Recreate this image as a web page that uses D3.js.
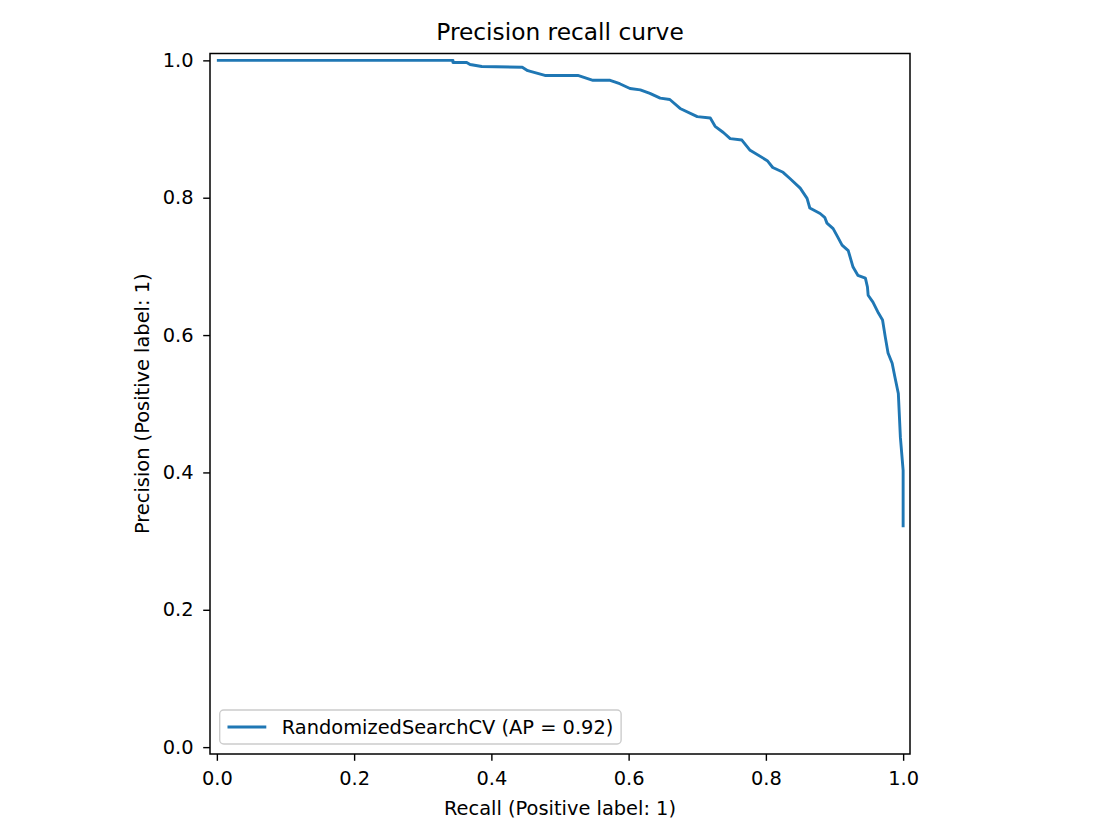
<!DOCTYPE html>
<html>
<head>
<meta charset="utf-8">
<script src="https://cdn.jsdelivr.net/npm/d3@7"></script>
<style>
  html, body { margin: 0; padding: 0; background: #fff; }
  text { font-family: "DejaVu Sans", sans-serif; fill: #000; }
</style>
</head>
<body>
<svg id="chart" width="1120" height="840"></svg>
<script>
// ---- data ----
const recall = [0.000, 0.344, 0.344, 0.364, 0.369, 0.386, 0.445, 0.453, 0.478, 0.526, 0.548, 0.573, 0.587, 0.602, 0.617, 0.631, 0.646, 0.660, 0.675, 0.700, 0.719, 0.726, 0.738, 0.748, 0.765, 0.777, 0.802, 0.810, 0.825, 0.835, 0.850, 0.860, 0.864, 0.879, 0.886, 0.889, 0.898, 0.904, 0.911, 0.920, 0.927, 0.934, 0.945, 0.948, 0.949, 0.956, 0.964, 0.970, 0.974, 0.978, 0.984, 0.988, 0.993, 0.996, 1.000, 1.000];
const precision = [1.000, 1.000, 0.997, 0.997, 0.994, 0.991, 0.990, 0.985, 0.978, 0.978, 0.971, 0.971, 0.966, 0.959, 0.957, 0.952, 0.945, 0.943, 0.930, 0.918, 0.916, 0.904, 0.895, 0.886, 0.884, 0.869, 0.854, 0.844, 0.837, 0.828, 0.814, 0.799, 0.785, 0.777, 0.771, 0.763, 0.755, 0.744, 0.731, 0.723, 0.699, 0.687, 0.683, 0.670, 0.658, 0.648, 0.632, 0.622, 0.597, 0.574, 0.559, 0.539, 0.515, 0.451, 0.403, 0.320];
const xTicks = [0.0, 0.2, 0.4, 0.6, 0.8, 1.0];
const yTicks = [0.0, 0.2, 0.4, 0.6, 0.8, 1.0];
const titleText = "Precision recall curve";
const xLabelText = "Recall (Positive label: 1)";
const yLabelText = "Precision (Positive label: 1)";
const legendText = "RandomizedSearchCV (AP = 0.92)";

// ---- layout ----
const L = 210, R = 910, T = 53.5, B = 754;
const color = "#1f77b4";
const fs = 19.4;

const svg = d3.select("#chart");
const x = d3.scaleLinear().domain([-0.01, 1.01]).range([L, R]);
const y = d3.scaleLinear().domain([-0.01, 1.01]).range([B, T]);

const pts = recall.map((r, i) => [r, precision[i]]);

// curve
svg.append("path")
  .datum(pts)
  .attr("fill", "none")
  .attr("stroke", color)
  .attr("stroke-width", 2.9)
  .attr("stroke-linejoin", "round")
  .attr("d", d3.line().x(d => x(d[0])).y(d => y(d[1])).curve(d3.curveLinear));

// axes
const xAxis = d3.axisBottom(x).tickValues(xTicks).tickFormat(d3.format(".1f")).tickSizeOuter(0).tickSize(6.8).tickPadding(6.8);
const yAxis = d3.axisLeft(y).tickValues(yTicks).tickFormat(d3.format(".1f")).tickSizeOuter(0).tickSize(6.8).tickPadding(6.8);

const gx = svg.append("g").attr("transform", `translate(0,${B})`).call(xAxis);
const gy = svg.append("g").attr("transform", `translate(${L},0)`).call(yAxis);
[gx, gy].forEach(g => {
  g.select(".domain").remove();
  g.selectAll(".tick line").attr("stroke", "#000").attr("stroke-width", 1.4);
  g.selectAll(".tick text").attr("font-size", fs).attr("font-family", "DejaVu Sans").attr("fill", "#000");
});
gx.selectAll(".tick text").attr("dy", null).attr("y", 31);
gy.selectAll(".tick text").attr("x", -16.5);

// frame
svg.append("rect")
  .attr("x", L).attr("y", T).attr("width", R - L).attr("height", B - T)
  .attr("fill", "none").attr("stroke", "#000").attr("stroke-width", 1.5);

// title & labels
svg.append("text").attr("x", (L + R) / 2).attr("y", 40).attr("text-anchor", "middle")
  .attr("font-size", 23.3).text(titleText);
svg.append("text").attr("x", (L + R) / 2).attr("y", 815).attr("text-anchor", "middle")
  .attr("font-size", fs).text(xLabelText);
svg.append("text").attr("transform", `translate(149,${(T + B) / 2}) rotate(-90)`).attr("text-anchor", "middle")
  .attr("font-size", fs).text(yLabelText);

// legend
const lg = svg.append("g");
const lx = 219.7, ly = 710, lh = 34;
const frame = lg.append("rect").attr("x", lx).attr("y", ly).attr("height", lh).attr("rx", 4).attr("ry", 4)
  .attr("fill", "#fff").attr("fill-opacity", 0.8).attr("stroke", "#cccccc").attr("stroke-width", 1.4);
lg.append("line").attr("x1", lx + 7.8).attr("x2", lx + 7.8 + 38.8).attr("y1", ly + lh / 2).attr("y2", ly + lh / 2)
  .attr("stroke", color).attr("stroke-width", 2.9);
const lt = lg.append("text").attr("x", lx + 7.8 + 38.8 + 15.5).attr("y", ly + lh / 2 + 7)
  .attr("font-size", fs).text(legendText);
const tw = lt.node().getComputedTextLength();
frame.attr("width", 7.8 + 38.8 + 15.5 + tw + 7.8);
</script>
</body>
</html>
